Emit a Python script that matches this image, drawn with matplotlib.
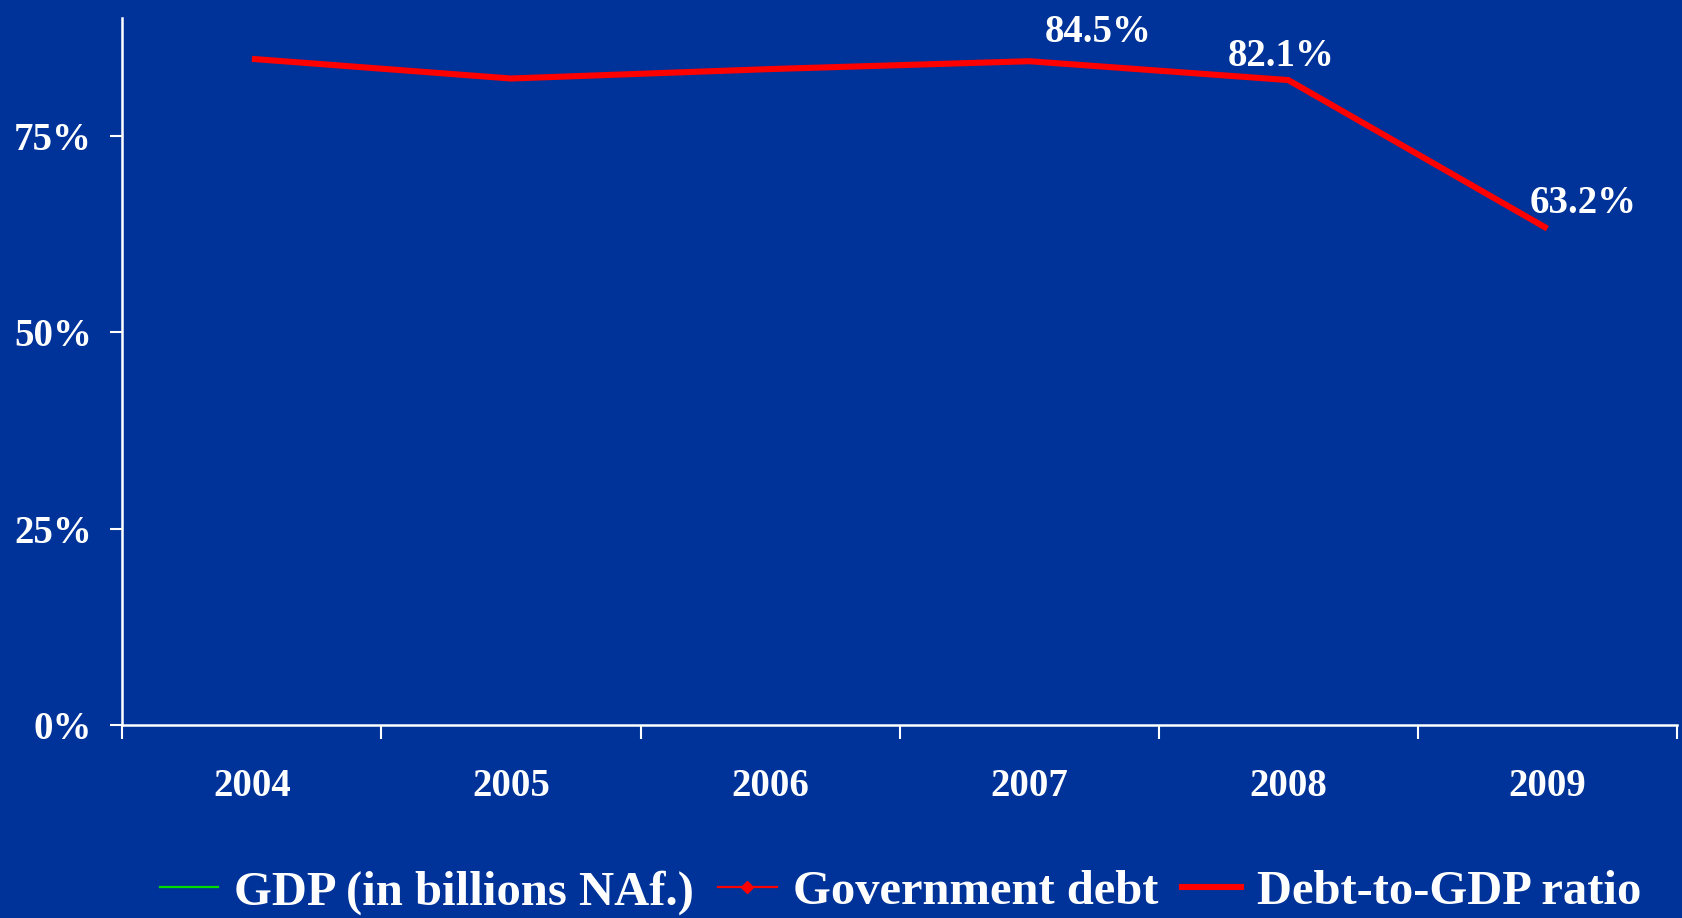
import matplotlib
matplotlib.use("Agg")
import matplotlib.pyplot as plt
from matplotlib.lines import Line2D
from matplotlib.ticker import FuncFormatter

# Data
years = ["2004", "2005", "2006", "2007", "2008", "2009"]
debt_to_gdp = [84.8, 82.3, 83.5, 84.5, 82.1, 63.2]
labelled_years = ["2007", "2008", "2009"]
label_offsets = [(50, 14), (-5, 10), (25.6, 11)]  # points, relative to the line vertex
y_ticks = [0, 25, 50, 75]
legend_labels = ["GDP (in billions NAf.)", "Government debt", "Debt-to-GDP ratio"]

BG = "#003399"
WHITE = "white"
RED = "#FF0000"
GREEN = "#00DD00"

plt.rcParams["font.family"] = ["Liberation Serif", "DejaVu Serif"]
plt.rcParams["font.weight"] = "bold"

fig = plt.figure(figsize=(16.83, 9.18), dpi=100, facecolor=BG)
ax = fig.add_axes([0.0727, 0.2099, 0.9237, 0.7705], facecolor=BG)

x = list(range(len(years)))
ax.plot(x, debt_to_gdp, color=RED, linewidth=4.4, solid_joinstyle="miter",
        solid_capstyle="butt", zorder=3)

for yr, (dx, dy) in zip(labelled_years, label_offsets):
    i = years.index(yr)
    ax.annotate(f"{debt_to_gdp[i]:.1f}%", xy=(i, debt_to_gdp[i]),
                xytext=(dx, dy), textcoords="offset points",
                ha="center", va="baseline", color=WHITE,
                fontsize=28, fontweight="bold")

ax.set_xlim(-0.5, len(years) - 0.5)
ax.set_ylim(0, 90)

# Category ticks sit between the years; labels centred on each year
ax.set_xticks([i - 0.5 for i in range(len(years) + 1)])
ax.set_xticklabels([])
ax.set_xticks(x, minor=True)
ax.set_xticklabels(years, minor=True)
ax.tick_params(axis="x", which="major", direction="out", length=10,
               width=1.5, color=WHITE)
ax.tick_params(axis="x", which="minor", length=0, pad=31,
               labelsize=28, labelcolor=WHITE)

ax.set_yticks(y_ticks)
ax.yaxis.set_major_formatter(FuncFormatter(lambda v, _: f"{v:.0f}%"))
ax.tick_params(axis="y", direction="out", length=9, width=1.5, color=WHITE,
               pad=13, labelsize=28, labelcolor=WHITE)
for lbl in ax.get_xticklabels(minor=True) + ax.get_yticklabels():
    lbl.set_fontweight("bold")

for side in ("top", "right"):
    ax.spines[side].set_visible(False)
for side in ("left", "bottom"):
    ax.spines[side].set_color(WHITE)
    ax.spines[side].set_linewidth(1.8)

handles = [
    Line2D([], [], color=GREEN, linewidth=1.6),
    Line2D([], [], color=RED, linewidth=1.6, marker="D", markersize=6,
           markerfacecolor=RED, markeredgecolor=RED),
    Line2D([], [], color=RED, linewidth=4.4),
]
leg = fig.legend(handles, legend_labels, loc="center", ncol=3,
                 bbox_to_anchor=(0.535, 0.028), frameon=False,
                 prop={"size": 35, "weight": "bold"},
                 handlelength=1.2, handletextpad=0.33, columnspacing=0.5,
                 borderaxespad=0, borderpad=0)
for t in leg.get_texts():
    t.set_color(WHITE)

fig.savefig("out.png", dpi=100, facecolor=BG)
